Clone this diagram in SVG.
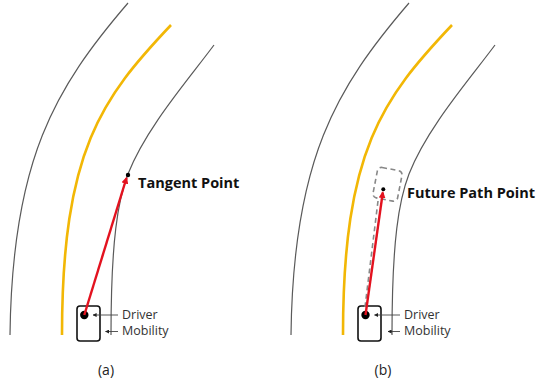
<svg xmlns="http://www.w3.org/2000/svg" width="539" height="382" viewBox="0 0 539 382">
<defs>
<style>
.road{fill:none;stroke:#5a5a5a;stroke-width:1.2}
.center{fill:none;stroke:#f2b705;stroke-width:2.6}
.car{fill:#fff;stroke:#111;stroke-width:1.6}
.gaze{stroke:#e3121f;stroke-width:2.4;fill:none}
.ptr{stroke:#444;stroke-width:0.9;fill:none}
.future{fill:none;stroke:#888;stroke-width:1.6;stroke-dasharray:5 3.5}
.lbl{font-family:"Open Sans","Liberation Sans",Arial,sans-serif;font-size:12.5px;fill:#333}
.big{font-family:"Open Sans","Liberation Sans",Arial,sans-serif;font-size:14.5px;font-weight:bold;fill:#111}
.cap{font-family:"Open Sans","Liberation Sans",Arial,sans-serif;font-size:14px;fill:#222;text-anchor:middle}
</style>
<marker id="redhead" viewBox="0 0 10 10" refX="8" refY="5" markerWidth="7" markerHeight="7" markerUnits="userSpaceOnUse" orient="auto">
<path d="M0,0 L10,5 L0,10 z" fill="#e3121f"/>
</marker>
<marker id="tick" viewBox="0 0 10 10" refX="1" refY="5" markerWidth="4" markerHeight="4" markerUnits="userSpaceOnUse" orient="auto">
<path d="M10,0 L0,5 L10,10 z" fill="#222"/>
</marker>
<g id="roads">
<path class="road" d="M128,3 C 55,88 12,160 10,335"/>
<path class="center" d="M171,25 C 102,98 62,150 62,335"/>
<path class="road" d="M214,45 C 188,80 146,128 128,174 C 118,200 111,240 111,335"/>
</g>
</defs>

<g id="panel-a">
<use href="#roads"/>
<g id="car-a">
<rect class="car" x="77" y="306" width="23" height="35" rx="3"/>
<circle cx="84.3" cy="315" r="4.2" fill="#000"/>
</g>
<g id="tangent-point">
<circle cx="128" cy="175" r="2.2" fill="#000"/>
<text class="big" x="138" y="187.5">Tangent Point</text>
</g>
<g id="labels-a">
<text class="lbl" x="122" y="318.5">Driver</text>
<text class="lbl" x="122" y="335">Mobility</text>
<text class="cap" x="106" y="375">(a)</text>
</g>
</g>

<g id="panel-b">
<use href="#roads" transform="translate(281,0)"/>
<g id="car-b">
<rect class="car" x="358" y="306" width="23" height="35" rx="3"/>
<circle cx="365.5" cy="315" r="4.2" fill="#000"/>
</g>
<g id="future-path-point">
<rect class="future" x="-12.5" y="-15.5" width="25" height="31" rx="4" transform="translate(387.5,184.3) rotate(11)"/>
<circle cx="383.3" cy="189.3" r="2" fill="#000"/>
<text class="big" x="407" y="197.5">Future Path Point</text>
</g>
<g id="labels-b">
<text class="lbl" x="404" y="318.5">Driver</text>
<text class="lbl" x="404" y="335">Mobility</text>
<text class="cap" x="383" y="375">(b)</text>
</g>
</g>

<g id="connectors">
<line class="gaze" x1="84.3" y1="315" x2="126.5" y2="178" marker-end="url(#redhead)"/>
<line class="ptr" x1="93" y1="315" x2="118" y2="315" marker-start="url(#tick)"/>
<line class="ptr" x1="105.5" y1="331.5" x2="118" y2="331.5" marker-start="url(#tick)"/>
<path class="future" d="M378,201 L365,307"/>
<line class="gaze" x1="365.5" y1="315" x2="382.8" y2="192.5" marker-end="url(#redhead)"/>
<line class="ptr" x1="374.5" y1="315" x2="400" y2="315" marker-start="url(#tick)"/>
<line class="ptr" x1="388" y1="331.5" x2="400" y2="331.5" marker-start="url(#tick)"/>
</g>
</svg>
